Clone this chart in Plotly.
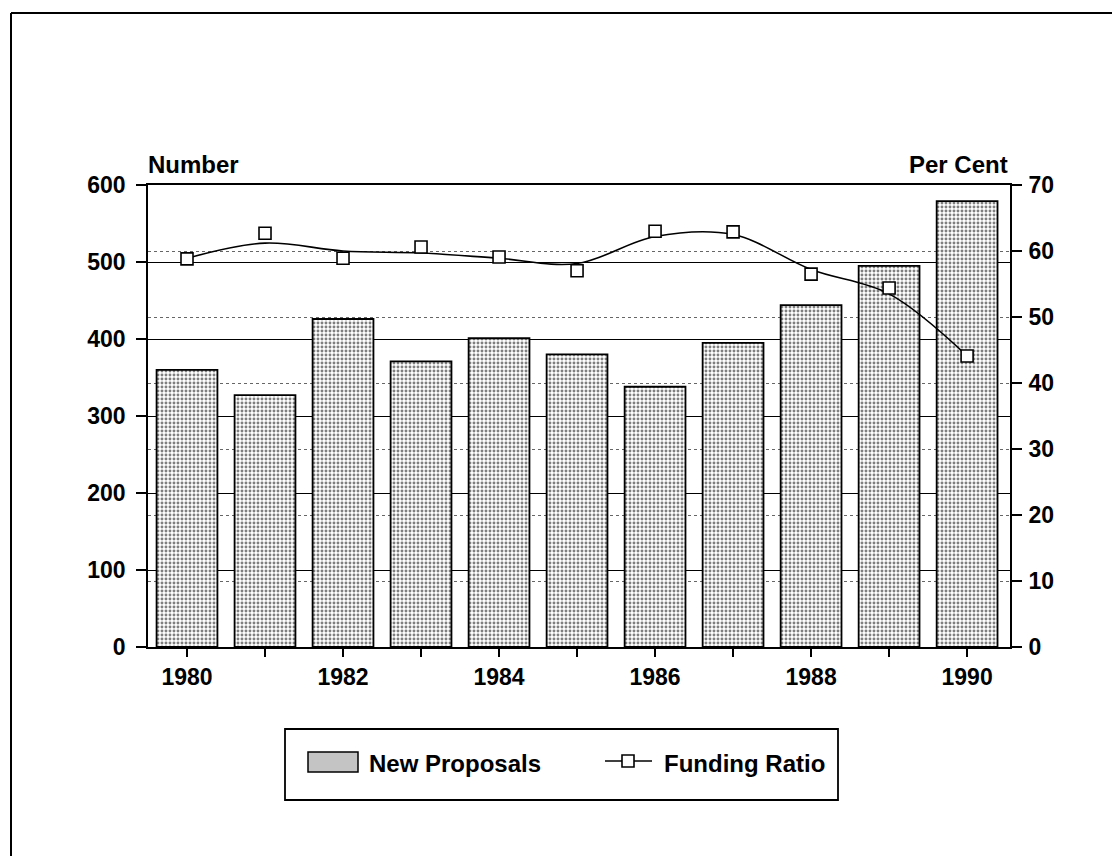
import plotly.graph_objects as go

years = [1980, 1981, 1982, 1983, 1984, 1985, 1986, 1987, 1988, 1989, 1990]
new_proposals = [360, 327, 426, 371, 401, 380, 338, 395, 444, 495, 579]
funding_ratio = [58.8, 62.7, 58.9, 60.6, 59.1, 57.0, 63.0, 62.9, 56.5, 54.4, 44.1]
funding_trend = [58.9, 61.2, 60.0, 59.7, 58.9, 58.1, 62.2, 62.5, 57.2, 53.5, 44.1]
year_labels = ["1980", "", "1982", "", "1984", "", "1986", "", "1988", "", "1990"]
left_ticks = [0, 100, 200, 300, 400, 500, 600]
right_ticks = [0, 10, 20, 30, 40, 50, 60, 70]

FONT = "Liberation Sans"
OFF = 8  # page body margin
W, H = 1120 - 2 * OFF, 864 - 2 * OFF
# plot area in page pixels
L, R, T, B = 148, 1010, 185, 647


def px(x):
    return (x - L) / (R - L)


def py(y):
    return (B - y) / (B - T)


fig = go.Figure()
fig.add_trace(go.Bar(
    x=years, y=new_proposals, name="New Proposals", width=0.78,
    marker=dict(color="white", line=dict(color="black", width=1.8),
                pattern=dict(shape=".", fgcolor="black", bgcolor="white",
                             size=4, solidity=0.42)),
    yaxis="y", showlegend=False,
))
fig.add_trace(go.Scatter(
    x=years, y=funding_trend, mode="lines",
    line=dict(color="black", width=1.6, shape="spline", smoothing=1.0),
    yaxis="y2", showlegend=False, hoverinfo="skip",
))
fig.add_trace(go.Scatter(
    x=years, y=funding_ratio, mode="markers", name="Funding Ratio",
    marker=dict(symbol="square", size=12, color="white", line=dict(color="black", width=1.6)),
    yaxis="y2", showlegend=False,
))

tickfont = dict(family=FONT, size=23, color="black", weight="bold")
titlefont = dict(family=FONT, size=24, color="black", weight="bold")

fig.update_layout(
    width=W, height=H,
    margin=dict(l=L - OFF, r=W - (R - OFF), t=T - OFF, b=H - (B - OFF), pad=0),
    paper_bgcolor="white", plot_bgcolor="white",
    font=dict(family=FONT, color="black"),
    showlegend=False,
    xaxis=dict(range=[1979.5, 1990.55], tickvals=years, ticktext=year_labels,
               ticks="outside", ticklen=8, tickcolor="black", tickwidth=1.5,
               ticklabelstandoff=0,
               showline=True, linecolor="black", linewidth=1.8, mirror=True,
               showgrid=False, zeroline=False, tickfont=tickfont),
    yaxis=dict(range=[0, 600], tickvals=left_ticks, ticks="outside", ticklen=10,
               tickcolor="black", tickwidth=1.5, showline=True, linecolor="black",
               linewidth=1.8, showgrid=True, gridcolor="black", gridwidth=1.3,
               ticklabelstandoff=6,
               zeroline=False, tickfont=tickfont),
    yaxis2=dict(range=[0, 70], tickvals=right_ticks, overlaying="y", side="right",
                ticks="outside", ticklen=10, tickcolor="black", tickwidth=1.5,
                showline=True, linecolor="black", linewidth=1.8,
                ticklabelstandoff=2,
                showgrid=True, gridcolor="#666666", gridwidth=1, griddash="dot",
                zeroline=False, tickfont=tickfont),
)

# axis titles
fig.add_annotation(text="Number", xref="paper", yref="paper", x=px(146), y=py(165),
                   xanchor="left", yanchor="middle", showarrow=False, font=titlefont)
fig.add_annotation(text="Per Cent", xref="paper", yref="paper", x=px(1010), y=py(165),
                   xanchor="right", yanchor="middle", showarrow=False, font=titlefont)

# legend box
fig.add_shape(type="rect", xref="paper", yref="paper", x0=px(285), x1=px(838),
              y0=py(800), y1=py(729), line=dict(color="black", width=1.8))
# legend: New Proposals swatch
fig.add_shape(type="rect", xref="paper", yref="paper", x0=px(308), x1=px(358),
              y0=py(772), y1=py(752), line=dict(color="black", width=1.5),
              fillcolor="#c4c4c4")
fig.add_annotation(text="New Proposals", xref="paper", yref="paper", x=px(367), y=py(763),
                   xanchor="left", yanchor="middle", showarrow=False, font=titlefont)
# legend: Funding Ratio line + marker
fig.add_shape(type="line", xref="paper", yref="paper", x0=px(605), x1=px(652),
              y0=py(761), y1=py(761), line=dict(color="black", width=1.6))
fig.add_shape(type="rect", xref="paper", yref="paper", x0=px(622), x1=px(634),
              y0=py(767), y1=py(755), line=dict(color="black", width=1.6),
              fillcolor="white")
fig.add_annotation(text="Funding Ratio", xref="paper", yref="paper", x=px(662), y=py(763),
                   xanchor="left", yanchor="middle", showarrow=False, font=titlefont)

# outer frame (left and top edges)
fig.add_shape(type="line", xref="paper", yref="paper", x0=px(11), x1=px(11),
              y0=py(870), y1=py(13), line=dict(color="black", width=2))
fig.add_shape(type="line", xref="paper", yref="paper", x0=px(11), x1=px(1125),
              y0=py(13), y1=py(13), line=dict(color="black", width=2))

fig.write_html("out.html")
